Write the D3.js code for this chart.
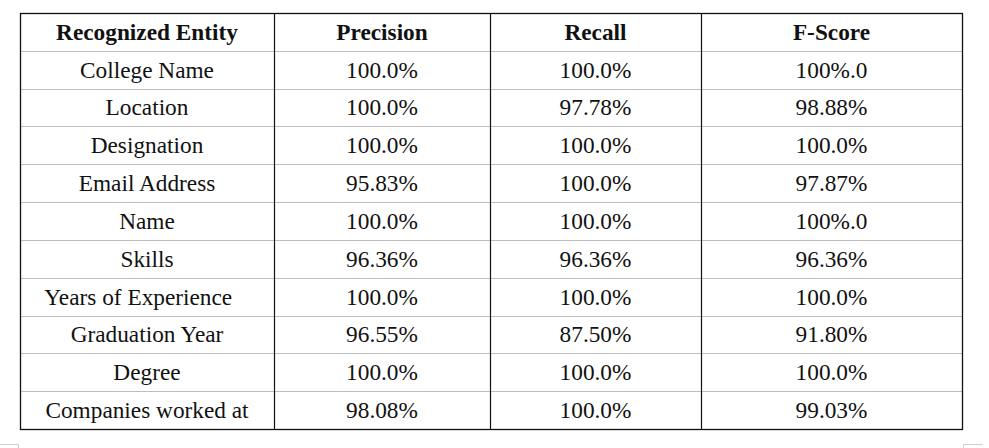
<!DOCTYPE html>
<html>
<head>
<meta charset="utf-8">
<script src="https://cdn.jsdelivr.net/npm/d3@7"></script>
<style>
  body { margin: 0; background: #fff; }
  svg { display: block; }
  text { white-space: pre; }
</style>
</head>
<body>
<div id="chart"></div>
<script>
const headers = ["Recognized Entity", "Precision", "Recall", "F-Score"];
// the source cell has trailing spaces, which pushes it left of centre
const entities = ["College Name", "Location", "Designation", "Email Address", "Name",
  "Skills", "Years of Experience   ", "Graduation Year", "Degree", "Companies worked at"];
const precision = ["100.0%", "100.0%", "100.0%", "95.83%", "100.0%", "96.36%", "100.0%", "96.55%", "100.0%", "98.08%"];
const recall = ["100.0%", "97.78%", "100.0%", "100.0%", "100.0%", "96.36%", "100.0%", "87.50%", "100.0%", "100.0%"];
const fscore = ["100%.0", "98.88%", "100.0%", "97.87%", "100%.0", "96.36%", "100.0%", "91.80%", "100.0%", "99.03%"];

const W = 989, H = 448;
const LEFT = 20, RIGHT = 962, TOP = 13, BOTTOM = 429;
const colEdges = [LEFT, 274, 490, 701, RIGHT];
const FONT = "'Liberation Serif', 'Times New Roman', serif";
const FS = 23.3;

const rows = entities.map((e, i) => [e, precision[i], recall[i], fscore[i]]);

const svg = d3.select("#chart").append("svg")
  .attr("width", W)
  .attr("height", H);

// row scale: header + data rows
const yScale = d3.scaleBand()
  .domain(d3.range(rows.length + 1))
  .range([TOP, BOTTOM]);

const colCenter = d3.scaleOrdinal()
  .domain(d3.range(headers.length))
  .range(d3.range(headers.length).map(i => (colEdges[i] + colEdges[i + 1]) / 2));

// horizontal grey lines between rows
svg.append("g")
  .selectAll("line")
  .data(d3.range(1, rows.length + 1))
  .join("line")
  .attr("x1", LEFT).attr("x2", RIGHT)
  .attr("y1", d => Math.round(yScale(d)) + 0.5)
  .attr("y2", d => Math.round(yScale(d)) + 0.5)
  .attr("stroke", "#bdbdbd")
  .attr("stroke-width", 1.2);

// vertical column dividers
svg.append("g")
  .selectAll("line")
  .data(colEdges.slice(1, -1))
  .join("line")
  .attr("x1", d => d + 0.5).attr("x2", d => d + 0.5)
  .attr("y1", TOP).attr("y2", BOTTOM)
  .attr("stroke", "#111")
  .attr("stroke-width", 1.2);

// outer border
svg.append("rect")
  .attr("x", LEFT + 0.5).attr("y", TOP + 0.5)
  .attr("width", RIGHT - LEFT).attr("height", BOTTOM - TOP)
  .attr("fill", "none")
  .attr("stroke", "#111")
  .attr("stroke-width", 1.3);

// header
svg.append("g")
  .selectAll("text")
  .data(headers)
  .join("text")
  .attr("x", (d, i) => colCenter(i))
  .attr("y", yScale(0) + 27)
  .attr("text-anchor", "middle")
  .attr("font-family", FONT)
  .attr("font-size", FS)
  .attr("font-weight", "bold")
  .attr("fill", "#111")
  .text(d => d);

// body cells
const rowG = svg.append("g")
  .selectAll("g")
  .data(rows)
  .join("g")
  .attr("transform", (d, i) => `translate(0,${yScale(i + 1)})`);

rowG.selectAll("text")
  .data(d => d)
  .join("text")
  .attr("x", (d, i) => colCenter(i))
  .attr("y", 26.8)
  .attr("text-anchor", "middle")
  .attr("font-family", FONT)
  .attr("font-size", FS)
  .attr("fill", "#111")
  .text(d => d);

// little page-corner marks at the bottom edge
svg.append("path")
  .attr("d", "M0,444.5 H18.5 V448")
  .attr("fill", "none")
  .attr("stroke", "#cfcfcf");
svg.append("path")
  .attr("d", "M963.5,448 V444.5 H983")
  .attr("fill", "none")
  .attr("stroke", "#cfcfcf");
</script>
</body>
</html>
